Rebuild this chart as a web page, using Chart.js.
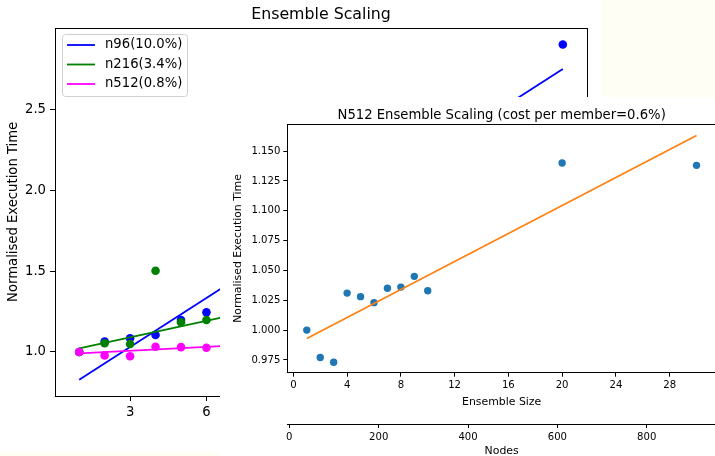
<!DOCTYPE html>
<html><head><meta charset="utf-8">
<script src="https://cdn.jsdelivr.net/npm/chart.js@4"></script>
<style>
html,body{margin:0;padding:0;background:#fffef4;overflow:hidden;width:715px;height:456px;}
#mainWrap{position:absolute;left:0;top:0;width:601px;height:452px;background:#fff;}
#insetWrap{position:absolute;left:220px;top:97px;width:500px;height:359px;background:#fff;}
canvas{display:block;}
</style></head><body>
<div id="mainWrap"><canvas id="main" width="601" height="452"></canvas></div>
<div id="insetWrap"><canvas id="inset" width="500" height="359"></canvas></div>
<script>
// ---- main chart data ----
const n96X = [1, 2, 3, 4, 5, 6, 20];
const n96Y = [1.000, 1.064, 1.085, 1.105, 1.198, 1.245, 2.900];
const n216X = [1, 2, 3, 4, 5, 6];
const n216Y = [1.000, 1.054, 1.049, 1.502, 1.184, 1.198];
const n512X = [1, 2, 3, 4, 5, 6];
const n512Y = [1.000, 0.979, 0.974, 1.032, 1.030, 1.026];
const fitX = [1, 20];
const n96Fit = [0.829, 2.749];
const n216Fit = [1.023, 1.669];
const n512Fit = [0.992, 1.144];
const legendLabels = ['n96(10.0%)', 'n216(3.4%)', 'n512(0.8%)'];
const mainXTicks = [3, 6, 9, 12, 15, 18];
const mainYTicks = [1.0, 1.5, 2.0, 2.5];

// ---- inset data ----
const ensembleSize = [1, 2, 3, 4, 5, 6, 7, 8, 9, 10, 20, 30];
const n512Time = [1.000, 0.977, 0.973, 1.031, 1.028, 1.023, 1.035, 1.036, 1.045, 1.033, 1.140, 1.138];
const insetFitX = [1, 30];
const insetFitY = [0.993, 1.163];
const insetXTicks = [0, 4, 8, 12, 16, 20, 24, 28];
const insetYTicks = [0.975, 1.000, 1.025, 1.050, 1.075, 1.100, 1.125, 1.150];
const nodeTicks = [0, 200, 400, 600, 800];

const F = 'DejaVu Sans';
const zip = (xs, ys) => xs.map((x, i) => ({x: x, y: ys[i]}));
const setTicks = vals => (s => { s.ticks = vals.map(v => ({value: v})); });
const tickGrid = len => ({display: true, drawOnChartArea: false, drawTicks: true, tickLength: len, tickWidth: 1, tickColor: '#000', color: '#000'});

const boxPlugin = {
  id: 'boxPlugin',
  afterDatasetsDraw(chart) {
    const a = chart.chartArea, ctx = chart.ctx;
    ctx.save();
    ctx.strokeStyle = '#000';
    ctx.lineWidth = 1;
    ctx.strokeRect(Math.round(a.left) + 0.5, Math.round(a.top) + 0.5, Math.round(a.right - a.left), Math.round(a.bottom - a.top));
    ctx.restore();
  }
};

const legendPlugin = {
  id: 'mplLegend',
  afterDatasetsDraw(chart) {
    const a = chart.chartArea, ctx = chart.ctx;
    const items = chart.data.datasets.filter(d => d.showLine)
      .sort((p, q) => legendLabels.indexOf(p.label) - legendLabels.indexOf(q.label));
    ctx.save();
    const x0 = Math.round(a.left + 6.7), y0 = Math.round(a.top + 6.3), w = 125, h = 62;
    ctx.beginPath();
    ctx.roundRect(x0 + 0.5, y0 + 0.5, w, h, 3);
    ctx.fillStyle = 'rgba(255,255,255,0.8)';
    ctx.fill();
    ctx.strokeStyle = '#d0d0d0';
    ctx.lineWidth = 1;
    ctx.stroke();
    ctx.font = '13.2px "DejaVu Sans"';
    ctx.textBaseline = 'middle';
    ctx.textAlign = 'left';
    items.forEach((d, i) => {
      const yc = a.top + 17.3 + i * 19.5;
      ctx.beginPath();
      ctx.moveTo(a.left + 12, yc);
      ctx.lineTo(a.left + 40, yc);
      ctx.strokeStyle = d.borderColor;
      ctx.lineWidth = 1.8;
      ctx.stroke();
      ctx.fillStyle = '#000';
      ctx.fillText(d.label, a.left + 50, yc);
    });
    ctx.restore();
  }
};

const lineDs = (label, xs, ys, color, order) => ({label: label, data: zip(xs, ys), showLine: true, borderColor: color, borderWidth: 1.8, pointRadius: 0, fill: false, order: order});
const dotDs = (label, xs, ys, color, order, r) => ({label: label, data: zip(xs, ys), showLine: false, backgroundColor: color, borderWidth: 0, pointRadius: r, order: order});

new Chart(document.getElementById('main'), {
  type: 'scatter',
  data: {datasets: [
    lineDs(legendLabels[2], fitX, n512Fit, '#ff00ff', 1),
    dotDs('n512 data', n512X, n512Y, '#ff00ff', 2, 4.3),
    lineDs(legendLabels[1], fitX, n216Fit, '#008000', 3),
    dotDs('n216 data', n216X, n216Y, '#008000', 4, 4.3),
    lineDs(legendLabels[0], fitX, n96Fit, '#0000ff', 5),
    dotDs('n96 data', n96X, n96Y, '#0000ff', 6, 4.3)
  ]},
  options: {
    responsive: false, animation: false, events: [],
    layout: {padding: {left: 0, right: 14, top: 0, bottom: 0}},
    plugins: {legend: {display: false}, tooltip: {enabled: false}, title: {display: false}},
    scales: {
      x: {type: 'linear', position: 'bottom', min: 0.05, max: 20.95,
        afterBuildTicks: setTicks(mainXTicks), afterFit: s => { s.height = 56; },
        grid: tickGrid(5), border: {display: false},
        ticks: {color: '#000', font: {family: F, size: 13.2}, padding: 4, maxRotation: 0, autoSkip: false, callback: v => String(v)}},
      xTitle: {type: 'linear', position: 'top', display: true, min: 0, max: 1,
        afterFit: s => { s.height = 27.7; },
        grid: {display: false}, border: {display: false}, ticks: {display: false},
        title: {display: true, text: 'Ensemble Scaling', color: '#000', font: {family: F, size: 15.8, lineHeight: 1.2}, padding: {top: 5.6, bottom: 0}}},
      y: {type: 'linear', position: 'left', min: 0.728, max: 3.004,
        afterBuildTicks: setTicks(mainYTicks), afterFit: s => { s.width = 55; },
        grid: tickGrid(5), border: {display: false},
        ticks: {color: '#000', font: {family: F, size: 13.2}, padding: 4, autoSkip: false, callback: v => v.toFixed(1)},
        title: {display: true, text: 'Normalised Execution Time', color: '#000', font: {family: F, size: 13.2, lineHeight: 1.2}, padding: {top: 5.8, bottom: 0}}}
    }
  },
  plugins: [boxPlugin, legendPlugin]
});

new Chart(document.getElementById('inset'), {
  type: 'scatter',
  data: {datasets: [
    {label: 'fit', data: zip(insetFitX, insetFitY), showLine: true, borderColor: '#ff7f0e', borderWidth: 1.6, pointRadius: 0, fill: false, order: 1},
    {label: 'N512', data: zip(ensembleSize, n512Time), showLine: false, backgroundColor: '#1f77b4', borderWidth: 0, pointRadius: 3.7, order: 2}
  ]},
  options: {
    responsive: false, animation: false, events: [],
    layout: {padding: {left: 0, right: 3, top: 0, bottom: 0}},
    plugins: {legend: {display: false}, tooltip: {enabled: false}, title: {display: false}},
    scales: {
      x: {type: 'linear', position: 'bottom', weight: 0, min: -0.45, max: 31.45,
        afterBuildTicks: setTicks(insetXTicks), afterFit: s => { s.height = 51.3; },
        grid: tickGrid(4), border: {display: false},
        ticks: {color: '#000', font: {family: F, size: 10.1}, padding: 3, maxRotation: 0, autoSkip: false, callback: v => String(v)},
        title: {display: true, text: 'Ensemble Size', color: '#000', font: {family: F, size: 10.9, lineHeight: 1.2}, padding: {top: 0, bottom: 15.3}}},
      nodes: {type: 'linear', position: 'bottom', weight: 1, min: -4.5, max: 955,
        afterBuildTicks: setTicks(nodeTicks), afterFit: s => { s.height = 32; },
        grid: tickGrid(4), border: {display: true, color: '#000', width: 1},
        ticks: {color: '#000', font: {family: F, size: 10.1}, padding: 3, maxRotation: 0, autoSkip: false, callback: v => String(v)},
        title: {display: true, text: 'Nodes', color: '#000', font: {family: F, size: 10.9, lineHeight: 1.0}, padding: {top: 0, bottom: -1}}},
      xTitle: {type: 'linear', position: 'top', display: true, min: 0, max: 1,
        afterFit: s => { s.height = 27.3; },
        grid: {display: false}, border: {display: false}, ticks: {display: false},
        title: {display: true, text: 'N512 Ensemble Scaling (cost per member=0.6%)', color: '#000', font: {family: F, size: 13.2, lineHeight: 1.2}, padding: {top: 10.2, bottom: 0}}},
      y: {type: 'linear', position: 'left', min: 0.9643, max: 1.1724,
        afterBuildTicks: setTicks(insetYTicks), afterFit: s => { s.width = 67.3; },
        grid: tickGrid(4), border: {display: false},
        ticks: {color: '#000', font: {family: F, size: 10.1}, padding: 3, autoSkip: false, callback: v => v.toFixed(3)},
        title: {display: true, text: 'Normalised Execution Time', color: '#000', font: {family: F, size: 10.9, lineHeight: 1.2}, padding: {top: 11.8, bottom: 0}}}
    }
  },
  plugins: [boxPlugin]
});
</script>
</body></html>
